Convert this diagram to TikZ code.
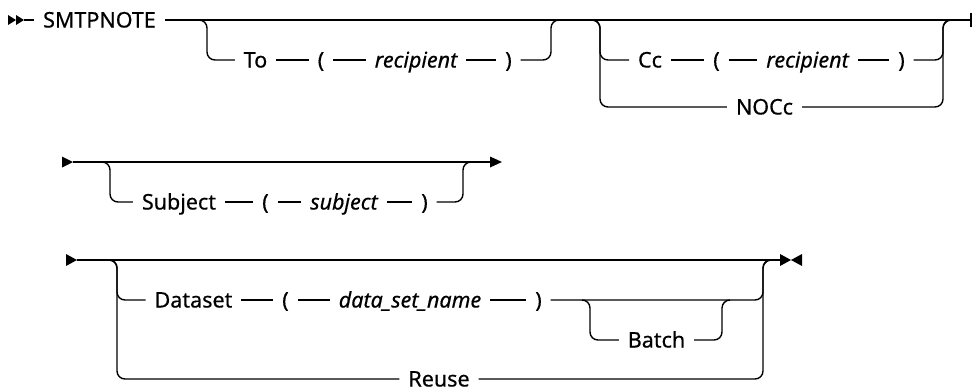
\documentclass[tikz,border=0pt]{standalone}
\usepackage{fontspec}
\setmainfont{Noto Sans}[FakeBold=0.5]
\begin{document}
\begin{tikzpicture}[x=1pt,y=-1pt,line width=1.4pt,
  lbl/.style={inner xsep=9pt,inner ysep=0pt,outer sep=0pt,text height=15pt,text depth=0pt,font=\fontsize{21.5}{24}\selectfont},
  var/.style={lbl,font=\fontsize{21.5}{24}\selectfont\itshape},
  rc/.style={rounded corners=8pt}]
\useasboundingbox (0,0) rectangle (973,391);
% ---------- row 1 ----------
\fill (8,15) -- (16,20) -- (8,25) -- cycle;
\fill (16,15) -- (24,20) -- (16,25) -- cycle;
\coordinate (s1) at (24,20);
\node[lbl] (smtp) at (99.5,20) {SMTPNOTE};
\coordinate (e1) at (971,20);
\coordinate (e1a) at (971,13);
\coordinate (e1b) at (971,27);
\draw (s1) -- (smtp);
\draw (smtp) -- (e1);
\draw[line width=1.6pt] (e1a) -- (e1b);
% To branch
\node[lbl] (to) at (255.5,60) {To};
\node[lbl] (tlp) at (321,60) {(};
\node[var] (trec) at (416,60) {recipient};
\node[lbl] (trp) at (508.5,60) {)};
\coordinate (toA) at (199,20);
\coordinate (toB) at (207,20);
\coordinate (toC) at (207,60);
\coordinate (toD) at (551,60);
\coordinate (toE) at (551,20);
\coordinate (toF) at (559,20);
\draw[rc] (toA) -- (toB) -- (toC) -- (to);
\draw (to) -- (tlp);
\draw (tlp) -- (trec);
\draw (trec) -- (trp);
\draw[rc] (trp) -- (toD) -- (toE) -- (toF);
% Cc / NOCc branch
\node[lbl] (cc) at (650,60) {Cc};
\node[lbl] (clp) at (716.5,60) {(};
\node[var] (crec) at (807.5,60) {recipient};
\node[lbl] (crp) at (901.5,60) {)};
\node[lbl] (nocc) at (764.5,107) {NOCc};
\coordinate (ccA) at (592,20);
\coordinate (ccB) at (600,20);
\coordinate (ccC) at (600,60);
\coordinate (ccN) at (600,107);
\coordinate (ccD) at (943,60);
\coordinate (ccM) at (943,107);
\coordinate (ccE) at (943,20);
\coordinate (ccF) at (951,20);
\draw[rc] (ccA) -- (ccB) -- (ccC) -- (cc);
\draw[rc] (ccA) -- (ccB) -- (ccN) -- (nocc);
\draw (cc) -- (clp);
\draw (clp) -- (crec);
\draw (crec) -- (crp);
\draw[rc] (crp) -- (ccD) -- (ccE) -- (ccF);
\draw[rc] (nocc) -- (ccM) -- (ccE) -- (ccF);
% ---------- row 2 ----------
\fill (62,156.5) -- (73,162) -- (62,167.5) -- cycle;
\fill (490,156.5) -- (502,162) -- (490,167.5) -- cycle;
\coordinate (s2) at (73,162);
\coordinate (e2) at (490,162);
\draw (s2) -- (e2);
\node[lbl] (subj) at (179,202) {Subject};
\node[lbl] (slp) at (265.5,202) {(};
\node[var] (svar) at (344,202) {subject};
\node[lbl] (srp) at (424.5,202) {)};
\coordinate (sbA) at (102,162);
\coordinate (sbB) at (110,162);
\coordinate (sbC) at (110,202);
\coordinate (sbD) at (463,202);
\coordinate (sbE) at (463,162);
\coordinate (sbF) at (471,162);
\draw[rc] (sbA) -- (sbB) -- (sbC) -- (subj);
\draw (subj) -- (slp);
\draw (slp) -- (svar);
\draw (svar) -- (srp);
\draw[rc] (srp) -- (sbD) -- (sbE) -- (sbF);
% ---------- row 3 ----------
\fill (66,254) -- (77,260) -- (66,266) -- cycle;
\fill (780,254) -- (791,260) -- (780,266) -- cycle;
\fill (802,254) -- (791,260) -- (802,266) -- cycle;
\coordinate (s3) at (77,260);
\coordinate (e3) at (780,260);
\draw (s3) -- (e3);
\node[lbl] (ds) at (193.5,300) {Dataset};
\node[lbl] (dlp) at (285.5,300) {(};
\node[var] (dsn) at (410,300) {data\_set\_name};
\node[lbl] (drp) at (538.5,300) {)};
\node[lbl] (batch) at (656.5,340) {Batch};
\node[lbl] (reuse) at (439,379) {Reuse};
\coordinate (dA) at (109,260);
\coordinate (dB) at (117,260);
\coordinate (dC) at (117,300);
\coordinate (dR) at (117,379);
\coordinate (dD) at (763,300);
\coordinate (dM) at (763,379);
\coordinate (dE) at (763,260);
\coordinate (dF) at (771,260);
\coordinate (bA) at (582,300);
\coordinate (bB) at (590,300);
\coordinate (bC) at (590,340);
\coordinate (bD) at (722,340);
\coordinate (bE) at (722,300);
\coordinate (bF) at (730,300);
\draw[rc] (dA) -- (dB) -- (dC) -- (ds);
\draw[rc] (dA) -- (dB) -- (dR) -- (reuse);
\draw (ds) -- (dlp);
\draw (dlp) -- (dsn);
\draw (dsn) -- (drp);
\draw[rc] (drp) -- (dD) -- (dE) -- (dF);
\draw[rc] (bA) -- (bB) -- (bC) -- (batch);
\draw[rc] (batch) -- (bD) -- (bE) -- (bF);
\draw[rc] (reuse) -- (dM) -- (dE) -- (dF);
\end{tikzpicture}
\end{document}
